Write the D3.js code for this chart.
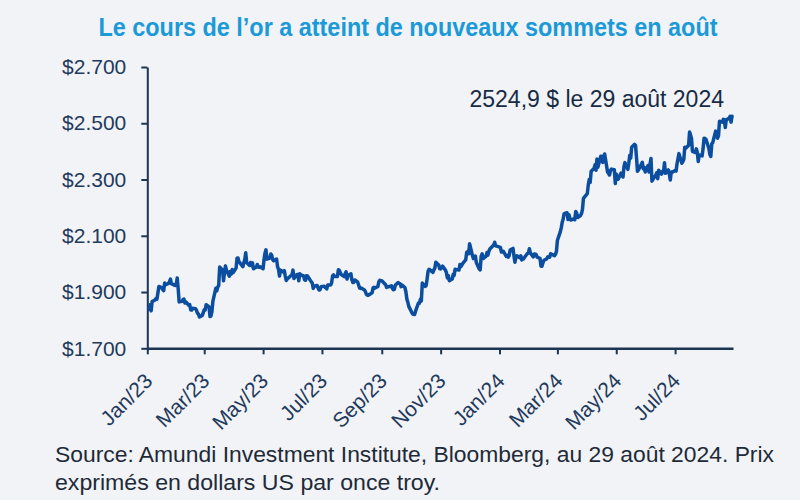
<!DOCTYPE html>
<html><head><meta charset="utf-8">
<script src="https://cdn.jsdelivr.net/npm/d3@7"></script>
<style>html,body{margin:0;padding:0;background:#f1f3f6;} svg{display:block}</style>
</head><body><svg id="c" width="800" height="500"></svg>
<script>
const title = "Le cours de l’or a atteint de nouveaux sommets en août";
const annotation = "2524,9 $ le 29 août 2024";
const sourceLines = ["Source: Amundi Investment Institute, Bloomberg, au 29 août 2024. Prix", "exprimés en dollars US par once troy."];
const yTicks = [1700, 1900, 2100, 2300, 2500, 2700];
const xTickDates = ["2023-01-01","2023-03-01","2023-05-01","2023-07-01","2023-09-01","2023-11-01","2024-01-01","2024-03-01","2024-05-01","2024-07-01"];
const xTickLabels = ["Jan/23","Mar/23","May/23","Jul/23","Sep/23","Nov/23","Jan/24","Mar/24","May/24","Jul/24"];
const xDomain = ["2023-01-01", "2024-08-30"];

const dates2023 = ["01-03","01-04","01-05","01-06","01-09","01-10","01-11","01-12","01-13","01-16","01-17","01-18","01-19","01-20","01-23","01-24","01-25","01-26","01-27","01-30","01-31",
"02-01","02-02","02-03","02-06","02-07","02-08","02-09","02-10","02-13","02-14","02-15","02-16","02-17","02-20","02-21","02-22","02-23","02-24","02-27","02-28",
"03-01","03-02","03-03","03-06","03-07","03-08","03-09","03-10","03-13","03-14","03-15","03-16","03-17","03-20","03-21","03-22","03-23","03-24","03-27","03-28","03-29","03-30","03-31",
"04-03","04-04","04-05","04-06","04-10","04-11","04-12","04-13","04-14","04-17","04-18","04-19","04-20","04-21","04-24","04-25","04-26","04-27","04-28",
"05-01","05-02","05-03","05-04","05-05","05-08","05-09","05-10","05-11","05-12","05-15","05-16","05-17","05-18","05-19","05-22","05-23","05-24","05-25","05-26","05-30","05-31",
"06-01","06-02","06-05","06-06","06-07","06-08","06-09","06-12","06-13","06-14","06-15","06-16","06-20","06-21","06-22","06-23","06-26","06-27","06-28","06-29","06-30",
"07-03","07-05","07-06","07-07","07-10","07-11","07-12","07-13","07-14","07-17","07-18","07-19","07-20","07-21","07-24","07-25","07-26","07-27","07-28","07-31",
"08-01","08-02","08-03","08-04","08-07","08-08","08-09","08-10","08-11","08-14","08-15","08-16","08-17","08-18","08-21","08-22","08-23","08-24","08-25","08-28","08-29","08-30","08-31",
"09-01","09-05","09-06","09-07","09-08","09-11","09-12","09-13","09-14","09-15","09-18","09-19","09-20","09-21","09-22","09-25","09-26","09-27","09-28","09-29",
"10-02","10-03","10-04","10-05","10-06","10-09","10-10","10-11","10-12","10-13","10-16","10-17","10-18","10-19","10-20","10-23","10-24","10-25","10-26","10-27","10-30","10-31",
"11-01","11-02","11-03","11-06","11-07","11-08","11-09","11-10","11-13","11-14","11-15","11-16","11-17","11-20","11-21","11-22","11-24","11-27","11-28","11-29","11-30",
"12-01","12-04","12-05","12-06","12-07","12-08","12-11","12-12","12-13","12-14","12-15","12-18","12-19","12-20","12-21","12-22","12-26","12-27","12-28","12-29"];
const prices2023 = [1839,1855,1833,1866,1872,1877,1875,1897,1920,1916,1908,1905,1932,1926,1931,1937,1946,1929,1928,1923,1928,
1950,1912,1865,1867,1873,1875,1861,1865,1853,1855,1836,1836,1842,1841,1835,1825,1822,1811,1817,1827,
1837,1836,1855,1847,1813,1815,1831,1868,1913,1904,1918,1923,1989,1978,1940,1970,1993,1978,1956,1973,1964,1980,1969,
1985,2020,2021,2008,1990,2004,2015,2040,2004,1995,2005,1994,2004,1983,1989,1998,1989,1988,1990,
1983,2016,2039,2050,2017,2021,2035,2030,2015,2011,2017,1990,1981,1957,1978,1971,1976,1957,1941,1946,1959,1963,
1978,1948,1962,1963,1940,1965,1961,1957,1943,1942,1958,1957,1936,1932,1913,1921,1923,1914,1907,1908,1919,
1921,1915,1911,1925,1925,1932,1957,1961,1955,1955,1979,1977,1969,1962,1955,1965,1972,1946,1959,1965,
1944,1934,1934,1943,1936,1925,1914,1913,1914,1907,1902,1892,1889,1889,1895,1898,1915,1917,1914,1920,1937,1942,1940,
1940,1926,1916,1919,1919,1922,1913,1908,1910,1924,1934,1931,1930,1919,1925,1916,1901,1875,1864,1849,
1828,1822,1821,1820,1832,1861,1860,1874,1868,1932,1920,1923,1947,1974,1981,1973,1970,1979,1985,2006,1996,1983,
1982,1986,1992,1978,1969,1950,1958,1940,1946,1963,1959,1981,1980,1978,1998,1990,2002,2014,2041,2044,2036,
2072,2029,2019,2026,2028,2005,1982,1979,2027,2036,2019,2027,2040,2031,2045,2053,2067,2077,2065,2063];

const dates2024 = ["01-02","01-03","01-04","01-05","01-08","01-09","01-10","01-11","01-12","01-15","01-16","01-17","01-18","01-19","01-22","01-23","01-24","01-25","01-26","01-29","01-30","01-31",
"02-01","02-02","02-05","02-06","02-07","02-08","02-09","02-12","02-13","02-14","02-15","02-16","02-19","02-20","02-21","02-22","02-23","02-26","02-27","02-28","02-29",
"03-01","03-04","03-05","03-06","03-07","03-08","03-11","03-12","03-13","03-14","03-15","03-18","03-19","03-20","03-21","03-22","03-25","03-26","03-27","03-28",
"04-01","04-02","04-03","04-04","04-05","04-08","04-09","04-10","04-11","04-12","04-15","04-16","04-17","04-18","04-19","04-22","04-23","04-24","04-25","04-26","04-29","04-30",
"05-01","05-02","05-03","05-06","05-07","05-08","05-09","05-10","05-13","05-14","05-15","05-16","05-17","05-20","05-21","05-22","05-23","05-24","05-28","05-29","05-30","05-31",
"06-03","06-04","06-05","06-06","06-07","06-10","06-11","06-12","06-13","06-14","06-17","06-18","06-19","06-20","06-21","06-24","06-25","06-26","06-27","06-28",
"07-01","07-02","07-03","07-05","07-08","07-09","07-10","07-11","07-12","07-15","07-16","07-17","07-18","07-19","07-22","07-23","07-24","07-25","07-26","07-29","07-30","07-31",
"08-01","08-02","08-05","08-06","08-07","08-08","08-09","08-12","08-13","08-14","08-15","08-16","08-19","08-20","08-21","08-22","08-23","08-26","08-27","08-28","08-29"];
const prices2024 = [2059,2042,2043,2045,2027,2030,2024,2029,2049,2055,2028,2006,2023,2029,2022,2029,2014,2021,2018,2033,2037,2039,
2054,2039,2025,2035,2035,2034,2024,2020,1992,1992,2004,2013,2018,2025,2026,2024,2036,2031,2029,2034,2044,
2083,2114,2128,2148,2160,2179,2182,2158,2175,2162,2156,2160,2157,2186,2181,2165,2172,2179,2194,2233,
2250,2280,2300,2290,2329,2339,2352,2333,2373,2344,2383,2383,2361,2379,2391,2327,2322,2316,2332,2337,2335,2286,
2320,2303,2301,2323,2314,2309,2346,2360,2336,2358,2386,2376,2415,2425,2421,2379,2329,2334,2361,2338,2343,2327,
2350,2327,2355,2375,2294,2311,2316,2324,2303,2333,2319,2329,2328,2360,2322,2334,2320,2298,2327,2326,
2332,2330,2356,2392,2358,2364,2371,2415,2411,2422,2469,2459,2445,2400,2396,2409,2397,2364,2387,2384,2410,2447,
2446,2443,2410,2390,2382,2427,2431,2472,2465,2447,2456,2507,2504,2514,2512,2485,2512,2518,2525,2504,2525];

const parse = d3.timeParse("%Y-%m-%d");
const series = dates2023.map((d, i) => ({date: parse("2023-" + d), value: prices2023[i]}))
  .concat(dates2024.map((d, i) => ({date: parse("2024-" + d), value: prices2024[i]})));

const ink = "#1c3552";
const m = {left: 147.3, right: 733, top: 67, bottom: 348.3};
const svg = d3.select("#c");
svg.append("rect").attr("width", 800).attr("height", 500).attr("fill", "#f1f3f6");

const x = d3.scaleTime().domain(xDomain.map(parse)).range([m.left, m.right]);
const y = d3.scaleLinear().domain([1700, 2700]).range([m.bottom, m.top]);

const loc = d3.formatLocale({decimal: ",", thousands: ".", grouping: [3], currency: ["$", ""]});
const fmt = loc.format("$,");

// title
svg.append("text").attr("x", 408).attr("y", 36).attr("text-anchor", "middle")
  .attr("font-family", "'Liberation Sans Narrow', 'Arial Narrow', 'Liberation Sans', Arial, sans-serif")
  .attr("font-weight", "bold").attr("font-size", 25).attr("fill", "#1b9ad7")
  .attr("textLength", 619).attr("lengthAdjust", "spacingAndGlyphs")
  .text(title);

// y axis
const yAxis = svg.append("g").attr("transform", `translate(${m.left},0)`)
  .call(d3.axisLeft(y).tickValues(yTicks).tickFormat(fmt).tickSize(6).tickSizeOuter(0).tickPadding(15));
yAxis.select(".domain").attr("stroke", ink).attr("stroke-width", 2);
yAxis.selectAll(".tick line").attr("stroke", ink).attr("stroke-width", 2);
yAxis.selectAll(".tick text").attr("fill", "#1f3a5c").attr("font-size", 21)
  .attr("font-family", "'Liberation Sans', Arial, sans-serif");

// x axis
const xAxis = svg.append("g").attr("transform", `translate(0,${m.bottom})`)
  .call(d3.axisBottom(x).tickValues(xTickDates.map(parse)).tickFormat((d, i) => xTickLabels[i]).tickSize(6).tickSizeOuter(0));
xAxis.select(".domain").attr("stroke", ink).attr("stroke-width", 2.5);
xAxis.selectAll(".tick line").attr("stroke", ink).attr("stroke-width", 2);
xAxis.selectAll(".tick text").attr("fill", "#1f3a5c").attr("font-size", 21)
  .attr("font-family", "'Liberation Sans', Arial, sans-serif")
  .attr("x", 0).attr("y", 0).attr("dy", 0)
  .attr("text-anchor", "end")
  .attr("transform", "translate(6,34) rotate(-45)");
svg.selectAll(".domain").attr("fill", "none");

// line
const line = d3.line().x(d => x(d.date)).y(d => y(d.value));
svg.append("path").datum(series).attr("d", line)
  .attr("fill", "none").attr("stroke", "#0b4ea0").attr("stroke-width", 3.5)
  .attr("stroke-linejoin", "round").attr("stroke-linecap", "round");

// annotation
svg.append("text").attr("x", 724).attr("y", 107).attr("text-anchor", "end")
  .attr("font-family", "'Liberation Sans', Arial, sans-serif").attr("font-size", 23)
  .attr("fill", "#172b45").text(annotation);

// source
sourceLines.forEach((t, i) => {
  svg.append("text").attr("x", 55).attr("y", 462 + i * 28)
    .attr("font-family", "'Liberation Sans Narrow', 'Arial Narrow', 'Liberation Sans', Arial, sans-serif")
    .attr("font-size", 22).attr("fill", "#1e2a38")
    .attr("textLength", i === 0 ? 719 : 385).attr("lengthAdjust", "spacingAndGlyphs")
    .text(t);
});
</script></body></html>
